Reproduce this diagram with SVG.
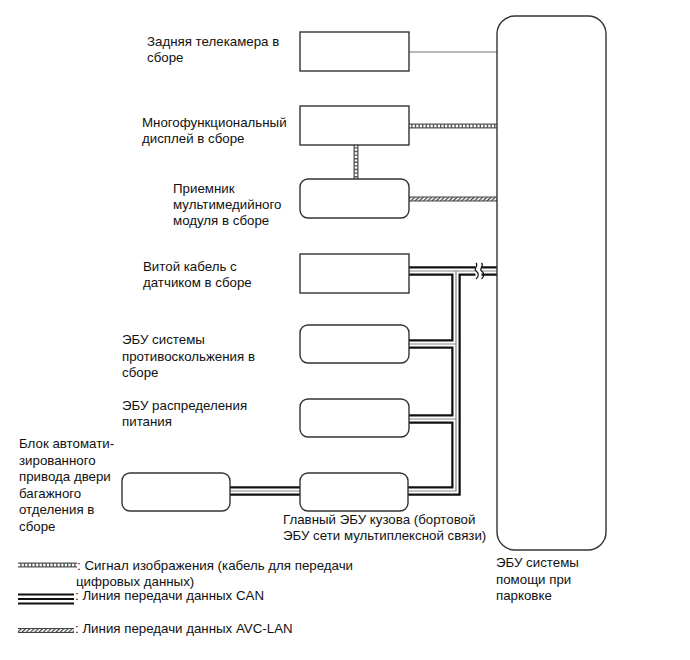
<svg xmlns="http://www.w3.org/2000/svg" width="690" height="660" viewBox="0 0 690 660">
<defs>
<pattern id="hatch" patternUnits="userSpaceOnUse" width="3" height="3" patternTransform="rotate(45)">
<rect width="3" height="3" fill="#fff"/>
<rect width="1.3" height="3" fill="#444"/>
</pattern>
<style>
text{font-family:"Liberation Sans",Arial,sans-serif;font-size:13.3px;fill:#111}
.box{fill:#fff;stroke:#333;stroke-width:1.4}
.thin{stroke:#777;stroke-width:1;fill:none}
.imgO{stroke:#555;stroke-width:5;fill:none}
.imgI{stroke:#fff;stroke-width:2.4;stroke-dasharray:2.2 1.4;fill:none}
.avcO{stroke:#444;stroke-width:5;fill:none}
.avcI{stroke:url(#hatch);stroke-width:3;fill:none}
.canO{stroke:#111;stroke-width:9.5;fill:none}
.canW{stroke:#fff;stroke-width:5;fill:none}
.canG{stroke:#888;stroke-width:1.2;fill:none}
</style>
</defs>
<rect width="690" height="660" fill="#fff"/>

<g id="connectors">
<line class="thin" x1="409" y1="52" x2="497" y2="52"/>
<path class="imgO" d="M409 126H497M356 145V179"/>
<path class="imgI" d="M409 126H497M356 145V179"/>
<path class="avcO" d="M409 199H497"/>
<path class="avcI" d="M409 199H497"/>
<path class="canO" d="M409 271H497M456 271V491H408M409 344H456M409 419H456M230 491H300"/>
<path class="canW" d="M409 271H497M456 271V491H408M409 344H456M409 419H456M230 491H300"/>
<path class="canG" d="M409 271H497M456 271V491H408M409 344H456M409 419H456M230 491H300"/>
<rect x="475.5" y="264" width="6" height="14" fill="#fff"/>
<path d="M476 263c3 3 -3 6 0 8s3 5 0 8M481.5 263c3 3 -3 6 0 8s3 5 0 8" fill="none" stroke="#111" stroke-width="1.2"/>
</g>

<g id="n-camera"><rect class="box" x="300" y="32" width="109" height="39"/>
<text x="147" y="46">Задняя телекамера в<tspan x="147" dy="16">сборе</tspan></text></g>
<g id="n-display"><rect class="box" x="300" y="106" width="109" height="39"/>
<text x="142" y="127">Многофункциональный<tspan x="142" dy="16">дисплей в сборе</tspan></text></g>
<g id="n-receiver"><rect class="box" x="300" y="179" width="109" height="39" rx="8"/>
<text x="173" y="193">Приемник<tspan x="173" dy="16">мультимедийного</tspan><tspan x="173" dy="16">модуля в сборе</tspan></text></g>
<g id="n-spiral"><rect class="box" x="300" y="254" width="109" height="39"/>
<text x="143" y="271">Витой кабель с<tspan x="143" dy="16">датчиком в сборе</tspan></text></g>
<g id="n-skid"><rect class="box" x="300" y="325" width="109" height="38" rx="8"/>
<text x="122" y="344">ЭБУ системы<tspan x="122" dy="16.5">противоскольжения в</tspan><tspan x="122" dy="16.5">сборе</tspan></text></g>
<g id="n-power"><rect class="box" x="300" y="399" width="109" height="38" rx="8"/>
<text x="122" y="410">ЭБУ распределения<tspan x="122" dy="16">питания</tspan></text></g>
<g id="n-door"><rect class="box" x="122" y="473" width="108" height="38" rx="8"/>
<text x="19" y="448">Блок автомати-<tspan x="19" dy="16.5">зированного</tspan><tspan x="19" dy="16.5">привода двери</tspan><tspan x="19" dy="16.5">багажного</tspan><tspan x="19" dy="16.5">отделения в</tspan><tspan x="19" dy="16.5">сборе</tspan></text></g>
<g id="n-main"><rect class="box" x="300" y="473" width="108" height="38" rx="8"/>
<text x="283" y="524">Главный ЭБУ кузова (бортовой<tspan x="283" dy="16">ЭБУ сети мультиплексной связи)</tspan></text></g>
<g id="n-park"><rect class="box" x="497" y="16" width="109" height="534" rx="18"/>
<text x="496" y="567">ЭБУ системы<tspan x="496" dy="16.5">помощи при</tspan><tspan x="496" dy="16.5">парковке</tspan></text></g>

<g id="legend">
<path class="imgO" d="M18 565H77"/>
<path class="imgI" d="M18 565H77"/>
<text x="77" y="570">: Сигнал изображения (кабель для передачи<tspan x="76" dy="15.5">цифровых данных)</tspan></text>
<path d="M18 594.5H74M18 599H74M18 603.5H74" stroke="#111" stroke-width="2.2" fill="none"/>
<text x="75" y="600">: Линия передачи данных CAN</text>
<path class="avcO" d="M18 630.5H74"/>
<path class="avcI" d="M18 630.5H74"/>
<text x="75" y="633">: Линия передачи данных AVC-LAN</text>
</g>
</svg>
